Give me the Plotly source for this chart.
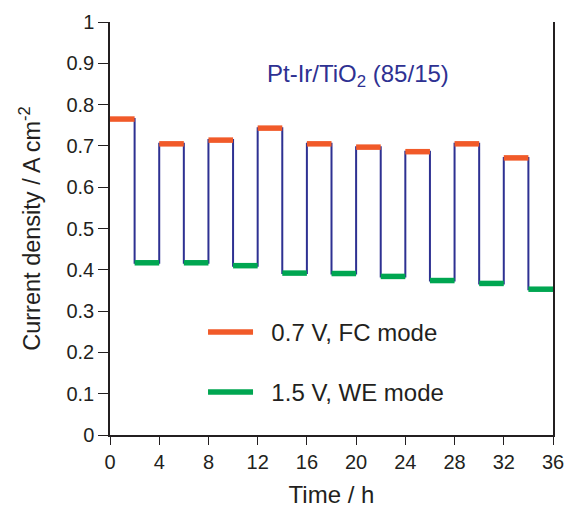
import plotly.graph_objects as go

# Data
fc_start = [0, 4, 8, 12, 16, 20, 24, 28, 32]
fc_values = [0.765, 0.705, 0.714, 0.743, 0.705, 0.697, 0.686, 0.705, 0.671]
we_start = [2, 6, 10, 14, 18, 22, 26, 30, 34]
we_values = [0.417, 0.417, 0.41, 0.392, 0.391, 0.384, 0.374, 0.367, 0.353]
step = 2
x_ticks = [0, 4, 8, 12, 16, 20, 24, 28, 32, 36]
y_ticks = [0, 0.1, 0.2, 0.3, 0.4, 0.5, 0.6, 0.7, 0.8, 0.9, 1]

ORANGE = "#F15A29"
GREEN = "#00A651"
BLUE = "#2E3192"
DARK = "#231F20"
FONT = "Liberation Sans, Arial, sans-serif"
NB = "\u00a0\u00a0"

# square wave
sq_x, sq_y = [], []
segs = sorted([(s, v) for s, v in zip(fc_start, fc_values)] + [(s, v) for s, v in zip(we_start, we_values)])
for s, v in segs:
    sq_x += [s, s + step]
    sq_y += [v, v]

def segments(starts, vals):
    xs, ys = [], []
    for s, v in zip(starts, vals):
        xs += [s, s + step, None]
        ys += [v, v, None]
    return xs, ys

fx, fy = segments(fc_start, fc_values)
wx, wy = segments(we_start, we_values)

fig = go.Figure()
fig.add_trace(go.Scatter(x=sq_x, y=sq_y, mode="lines", line=dict(color=BLUE, width=2),
                         showlegend=False, hoverinfo="skip"))
fig.add_trace(go.Scatter(x=fx, y=fy, mode="lines", line=dict(color=ORANGE, width=5.5),
                         name=NB + "0.7 V, FC mode", legendgroup="fc"))
fig.add_trace(go.Scatter(x=wx, y=wy, mode="lines", line=dict(color=GREEN, width=5.5),
                         name=NB + "1.5 V, WE mode", legendgroup="we"))

fig.add_annotation(x=0.56, y=0.912, xref="paper", yref="paper",
                   text="Pt-Ir/TiO<sub>2</sub> (85/15)", showarrow=False,
                   font=dict(family=FONT, size=24, color=BLUE))

fig.update_layout(
    width=566, height=513,
    margin=dict(l=110, r=13, t=22, b=78, autoexpand=False),
    paper_bgcolor="white", plot_bgcolor="white",
    font=dict(family=FONT, color=DARK, size=20),
    legend=dict(x=0.21, y=0.176, xanchor="left", yanchor="middle",
                bgcolor="rgba(0,0,0,0)", tracegroupgap=26, itemwidth=45,
                font=dict(family=FONT, size=24)),
    xaxis=dict(range=[0, 36], tickvals=x_ticks, ticks="outside", ticklen=8,
               tickcolor=DARK, linecolor=DARK, linewidth=1.5, showline=True,
               showgrid=False, zeroline=False, automargin=False,
               tickfont=dict(size=20, color=DARK),
               title=dict(text="Time / h", font=dict(size=24, color=DARK), standoff=14)),
    yaxis=dict(range=[0, 1], tickvals=y_ticks, ticktext=[("%g" % v) for v in y_ticks],
               ticks="outside", ticklen=10, tickcolor=DARK, linecolor=DARK, linewidth=1.5,
               showline=True, mirror=True, showgrid=False, zeroline=False, automargin=False,
               tickfont=dict(size=20, color=DARK),
               title=dict(text="Current density / A cm<sup>-2</sup>", font=dict(size=23.5, color=DARK), standoff=19)),
)

fig.write_html("out.html", config={"displayModeBar": False},
               post_script="document.body.style.margin='0';document.body.style.overflow='hidden';")
